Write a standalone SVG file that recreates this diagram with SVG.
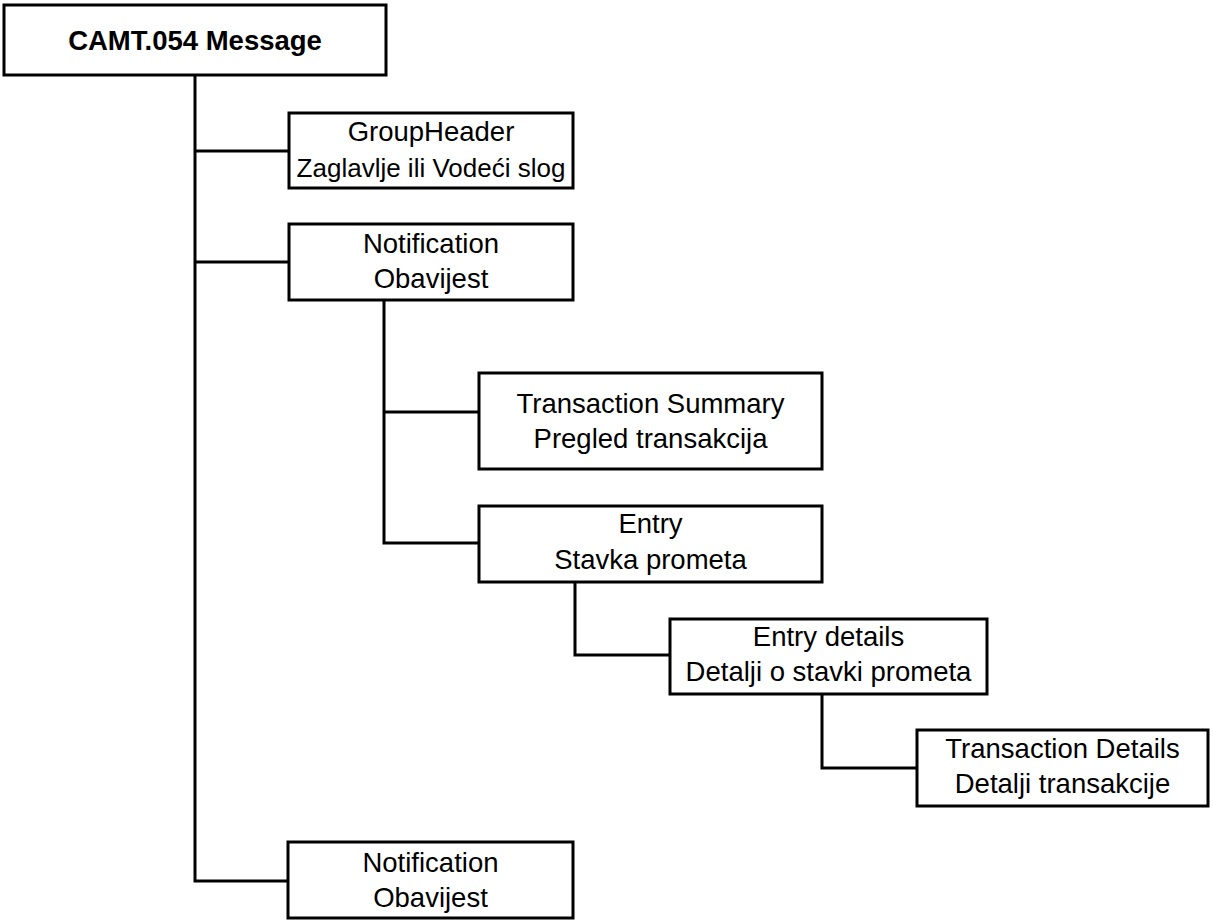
<svg xmlns="http://www.w3.org/2000/svg" width="1213" height="922" viewBox="0 0 1213 922">
<style>
.box{fill:#fff;stroke:#000;stroke-width:3}
.t{font-family:"Liberation Sans",Arial,sans-serif;font-size:27.5px;fill:#000;text-anchor:middle}
.b{font-weight:bold;font-size:27.5px}
.s{font-size:26px}
.c{fill:none;stroke:#000;stroke-width:3}
</style>
<rect width="1213" height="922" fill="#fff"/>
<g id="connectors">
<path class="c" d="M195,75 V881 H288"/>
<path class="c" d="M195,151 H289"/>
<path class="c" d="M195,262 H289"/>
<path class="c" d="M384,300 V543 H479"/>
<path class="c" d="M384,412 H479"/>
<path class="c" d="M575,582 V655 H670"/>
<path class="c" d="M822,694 V768 H917"/>
</g>
<g id="root">
<rect class="box" x="4" y="5" width="382" height="70"/>
<text class="t b" x="195" y="50">CAMT.054 Message</text>
</g>
<g id="groupheader">
<rect class="box" x="289" y="113" width="284" height="75"/>
<text class="t" x="431" y="141">GroupHeader</text>
<text class="t s" x="431" y="177">Zaglavlje ili Vodeći slog</text>
</g>
<g id="notification1">
<rect class="box" x="289" y="224" width="284" height="76"/>
<text class="t" x="431" y="253">Notification</text>
<text class="t" x="431" y="288">Obavijest</text>
</g>
<g id="transactionsummary">
<rect class="box" x="479" y="373" width="343" height="96"/>
<text class="t" x="650.5" y="413">Transaction Summary</text>
<text class="t" x="650.5" y="448">Pregled transakcija</text>
</g>
<g id="entry">
<rect class="box" x="479" y="506" width="343" height="76"/>
<text class="t" x="650.5" y="533">Entry</text>
<text class="t" x="650.5" y="569">Stavka prometa</text>
</g>
<g id="entrydetails">
<rect class="box" x="670" y="619" width="317" height="75"/>
<text class="t" x="828.5" y="646">Entry details</text>
<text class="t" x="828.5" y="681">Detalji o stavki prometa</text>
</g>
<g id="transactiondetails">
<rect class="box" x="917" y="730" width="291" height="76"/>
<text class="t" x="1062.5" y="758">Transaction Details</text>
<text class="t" x="1062.5" y="793">Detalji transakcije</text>
</g>
<g id="notification2">
<rect class="box" x="288" y="842" width="285" height="76"/>
<text class="t" x="430.5" y="872">Notification</text>
<text class="t" x="430.5" y="907">Obavijest</text>
</g>
</svg>
